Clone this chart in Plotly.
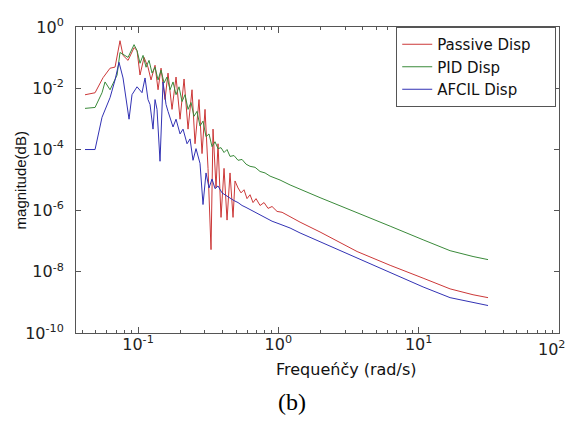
import plotly.graph_objects as go

# Passive Disp
passive_f = [0.0419, 0.0494, 0.0563, 0.0632, 0.0686, 0.0744, 0.0782, 0.0849, 0.0937, 0.0984,
             0.1033, 0.1104, 0.1178, 0.1238, 0.1322, 0.1389, 0.1459, 0.1557, 0.1636, 0.1747,
             0.1866, 0.1993, 0.2128, 0.2272, 0.2426, 0.2548, 0.2720, 0.2858, 0.3002, 0.3154,
             0.3313, 0.3424, 0.3597, 0.3716, 0.3904, 0.4102, 0.4309, 0.4525, 0.4753, 0.4912,
             0.5161, 0.5421, 0.5694, 0.5981, 0.6284, 0.6601, 0.6935, 0.7406, 0.7909, 0.8445,
             0.9018, 0.979, 1.063, 1.153, 1.273, 1.428, 1.982, 3.64, 6.26, 10.75, 16.74, 24.4, 31.2]
passive_mag = [6.1e-3, 7.1e-3, 2.2e-2, 4.5e-2, 4.9e-2, 0.356, 0.118, 0.081, 0.212, 0.170,
               0.027, 0.1015, 0.0485, 0.0186, 0.0562, 0.0089, 0.0451, 0.00425, 0.0312, 0.00203,
               0.0232, 0.00097, 0.0200, 0.00046, 0.0089, 1.53e-4, 0.00425, 7.3e-5, 0.00203, 2.4e-5,
               5.3e-8, 4.6e-4, 5.5e-6, 1.53e-4, 6.0e-7, 2.4e-5, 4.9e-7, 1.7e-5, 6.0e-7, 9.3e-6,
               5.5e-6, 3.8e-6, 4.8e-6, 2.46e-6, 3.3e-6, 1.83e-6, 2.46e-6, 1.47e-6, 1.83e-6, 1.18e-6,
               1.36e-6, 9.4e-7, 8.8e-7, 7.0e-7, 5.6e-7, 4.2e-7, 2.0e-7, 4.6e-8, 1.63e-8, 6.2e-9,
               2.77e-9, 1.78e-9, 1.43e-9]

# PID Disp
pid_f = [0.0419, 0.0494, 0.0554, 0.0582, 0.0632, 0.0709, 0.0744, 0.0795, 0.0849, 0.0937,
         0.0984, 0.1033, 0.1086, 0.1141, 0.1198, 0.1259, 0.1322, 0.1389, 0.1459, 0.1532,
         0.1609, 0.1691, 0.1776, 0.1866, 0.1960, 0.2059, 0.2163, 0.2272, 0.2386, 0.2506,
         0.2633, 0.2765, 0.2905, 0.3052, 0.3206, 0.3368, 0.3538, 0.3716, 0.3904, 0.4102,
         0.4309, 0.4525, 0.4831, 0.5161, 0.5511, 0.5884, 0.6284, 0.6822, 0.7406, 0.804,
         0.8727, 1.028, 1.212, 1.982, 3.64, 6.26, 10.75, 16.74, 24.4, 31.2]
pid_mag = [2.19e-3, 2.35e-3, 7.1e-3, 0.0160, 0.0089, 0.0269, 0.147, 0.118, 0.1015, 0.265,
           0.170, 0.0652, 0.118, 0.0485, 0.0813, 0.0312, 0.0485, 0.0186, 0.0389, 0.0149,
           0.0232, 0.0089, 0.0160, 0.00614, 0.0111, 0.00366, 0.00614, 0.00203, 0.00340, 0.00121,
           0.00175, 5.8e-4, 8.4e-4, 2.6e-4, 3.2e-4, 1.23e-4, 1.78e-4, 1.06e-4, 1.14e-4, 7.9e-5,
           9.9e-5, 5.9e-5, 6.3e-5, 4.4e-5, 4.7e-5, 3.3e-5, 2.8e-5, 2.6e-5, 1.9e-5, 1.7e-5,
           1.34e-5, 1.0e-5, 6.9e-6, 2.65e-6, 8.8e-7, 3.1e-7, 1.11e-7, 4.9e-8, 3.16e-8, 2.5e-8]

# AFCIL Disp
afcil_f = [0.0419, 0.0494, 0.0554, 0.0632, 0.0686, 0.0732, 0.0782, 0.0821, 0.0863, 0.0906,
           0.0984, 0.1068, 0.1122, 0.1178, 0.1218, 0.1279, 0.1322, 0.1366, 0.1435, 0.1507,
           0.1583, 0.1636, 0.1719, 0.1776, 0.1866, 0.1993, 0.2093, 0.2235, 0.2348, 0.2466,
           0.2590, 0.2765, 0.2905, 0.3052, 0.3206, 0.3368, 0.3538, 0.3716, 0.3969, 0.4239,
           0.4525, 0.4831, 0.5161, 0.5511, 0.5884, 0.6284, 0.6822, 0.7406, 0.817, 0.9018,
           1.028, 1.212, 1.428, 1.982, 3.64, 6.26, 10.75, 16.74, 24.4, 31.2]
afcil_mag = [9.9e-5, 9.9e-5, 0.00112, 0.00492, 0.0186, 0.0702, 0.0216, 0.00425, 0.00097, 0.00614,
             0.0111, 0.00713, 0.0216, 0.00425, 0.00294, 4.6e-4, 0.00425, 0.00203, 4.1e-5, 0.0160,
             0.00294, 0.00175, 7.8e-4, 5.4e-4, 9.7e-4, 3.2e-4, 4.6e-4, 1.53e-4, 2.2e-4, 4.4e-5,
             1.06e-4, 3.5e-5, 1.58e-6, 1.7e-5, 5.5e-6, 1.08e-5, 5.2e-6, 6.4e-6, 3.8e-6, 3.1e-6,
             2.65e-6, 2.12e-6, 1.83e-6, 1.47e-6, 1.27e-6, 1.09e-6, 8.8e-7, 7.0e-7, 5.6e-7, 4.5e-7,
             3.6e-7, 2.7e-7, 1.86e-7, 9.6e-8, 2.7e-8, 9.0e-9, 3.2e-9, 1.43e-9, 9.9e-10, 7.9e-10]

x_ticks = [0.1, 1, 10, 100]
x_labels = ["10<sup>-1</sup>", "10<sup>0</sup>", "10<sup>1</sup>", ""]
y_ticks = [1e-10, 1e-8, 1e-6, 1e-4, 1e-2, 1]
y_labels = ["10<sup>-10</sup>", "10<sup>-8</sup>", "10<sup>-6</sup>",
            "10<sup>-4</sup>", "10<sup>-2</sup>", "10<sup>0</sup>"]

x_minor = [m * d for d in (0.01, 0.1, 1, 10) for m in range(2, 10) if m * d > 0.036]

fig = go.Figure()
fig.add_trace(go.Scatter(x=passive_f, y=passive_mag, mode="lines",
                         name="Passive Disp\u00a0\u00a0\u00a0\u00a0",
                         line=dict(color="#cc3838", width=1)))
fig.add_trace(go.Scatter(x=pid_f, y=pid_mag, mode="lines", name="PID Disp",
                         line=dict(color="#3a8a3a", width=1)))
fig.add_trace(go.Scatter(x=afcil_f, y=afcil_mag, mode="lines", name="AFCIL Disp",
                         line=dict(color="#3232b4", width=1)))

axis_style = dict(showline=True, linecolor="#555555", linewidth=1, mirror="ticks",
                  ticks="inside", tickcolor="#555555", showgrid=False, zeroline=False,
                  tickfont=dict(family="DejaVu Sans", size=16, color="#222222"))

fig.update_xaxes(type="log", range=[-1.442, 2.0], tickvals=x_ticks, ticktext=x_labels,
                 ticklen=6, ticklabelstandoff=-3,
                 minor=dict(tickvals=x_minor, ticks="inside", ticklen=3, tickcolor="#555555"),
                 **axis_style)
fig.update_yaxes(type="log", range=[-10, 0], tickvals=y_ticks, ticktext=y_labels,
                 ticklen=5, ticklabelstandoff=8, **axis_style)

# page body adds an 8px margin, so the figure is sized to fit inside the window
fig.update_layout(
    width=560, height=407,
    margin=dict(l=68, r=8, t=13, b=82),
    paper_bgcolor="white", plot_bgcolor="white",
    showlegend=True,
    legend=dict(x=0.663, y=1.0, xanchor="left", yanchor="top",
                bgcolor="white", bordercolor="#555555", borderwidth=1,
                font=dict(family="DejaVu Sans", size=15, color="#111111"),
                tracegroupgap=0),
    annotations=[
        dict(text="10<sup>2</sup>", xref="x", yref="paper", x=2, y=-0.051,
             xanchor="center", yanchor="middle", xshift=-8, showarrow=False,
             font=dict(family="DejaVu Sans", size=16, color="#222222")),
        dict(text="Frequeńčy (rad/s)", xref="paper", yref="paper", x=0.56, y=-0.12,
             xanchor="center", yanchor="middle", showarrow=False,
             font=dict(family="DejaVu Sans", size=16, color="#111111")),
        dict(text="magnitude(dB)", xref="paper", yref="paper", x=-0.115, y=0.5,
             textangle=-90, xanchor="center", yanchor="middle", showarrow=False,
             font=dict(family="Liberation Sans", size=15, color="#111111")),
        dict(text="(b)", xref="paper", yref="paper", x=0.447, y=-0.225,
             xanchor="center", yanchor="middle", showarrow=False,
             font=dict(family="Liberation Serif", size=24, color="#000000")),
    ],
)

fig.write_html("out.html")
